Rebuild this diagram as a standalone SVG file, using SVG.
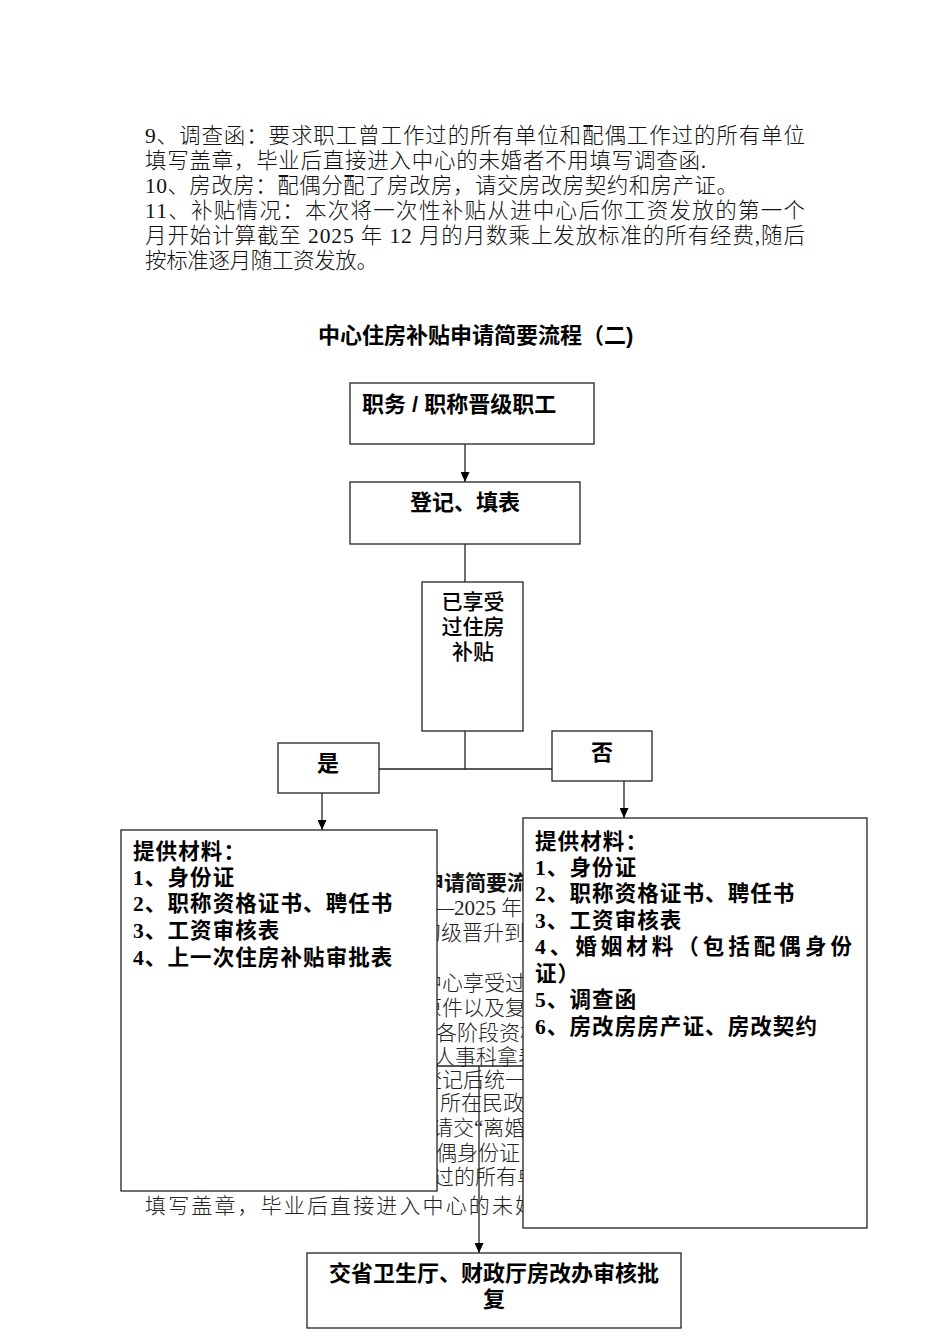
<svg xmlns="http://www.w3.org/2000/svg" width="950" height="1344" viewBox="0 0 950 1344">
<defs>
<style>
.body{font-family:"Liberation Serif","Noto Sans CJK SC",serif;font-size:21.5px;font-weight:300;fill:#111}
.bg{font-family:"Liberation Serif","Noto Sans CJK SC",serif;font-size:21px;font-weight:300;fill:#222}
.bgb{font-family:"Liberation Sans","Noto Sans CJK SC",sans-serif;font-size:21px;font-weight:700;fill:#111}
.title{font-family:"Liberation Sans","Noto Sans CJK SC",sans-serif;font-size:22px;font-weight:700;fill:#000}
.lbl{font-family:"Liberation Sans","Noto Sans CJK SC",sans-serif;font-size:22px;font-weight:700;fill:#000}
.lbln{font-family:"Liberation Sans","Noto Sans CJK SC",sans-serif;font-size:21px;font-weight:500;fill:#000}
.mat{font-family:"Liberation Serif","Noto Sans CJK SC",serif;font-size:21.5px;font-weight:700;fill:#000;letter-spacing:1.1px}
.box{fill:#fff;stroke:#222;stroke-width:1.3}
.ln{fill:none;stroke:#222;stroke-width:1.3}
</style>
<marker id="ah" markerWidth="10" markerHeight="9" refX="10" refY="4.5" orient="auto" markerUnits="userSpaceOnUse" viewBox="0 0 10 9">
<path d="M0,0 L10,4.5 L0,9 Z" fill="#000"/>
</marker>
<clipPath id="gapclip">
<rect x="437" y="860" width="86" height="331"/>
<rect x="130" y="1191" width="393" height="30"/>
</clipPath>
</defs>
<rect width="950" height="1344" fill="#fff"/>

<g id="paragraph">
<text class="body" x="145" y="143" textLength="660" lengthAdjust="spacing">9、调查函：要求职工曾工作过的所有单位和配偶工作过的所有单位</text>
<text class="body" x="145" y="168" textLength="561" lengthAdjust="spacing">填写盖章，毕业后直接进入中心的未婚者不用填写调查函.</text>
<text class="body" x="145" y="193" textLength="593" lengthAdjust="spacing">10、房改房：配偶分配了房改房，请交房改房契约和房产证。</text>
<text class="body" x="145" y="218" textLength="660" lengthAdjust="spacing">11、补贴情况：本次将一次性补贴从进中心后你工资发放的第一个</text>
<text class="body" x="145" y="243" textLength="660" lengthAdjust="spacing">月开始计算截至 2025 年 12 月的月数乘上发放标准的所有经费,随后</text>
<text class="body" x="145" y="268" textLength="233" lengthAdjust="spacing">按标准逐月随工资发放。</text>
</g>

<text id="title" class="title" x="318" y="343">中心住房补贴申请简要流程（二)</text>

<g id="background-text" clip-path="url(#gapclip)">
<text class="bgb" x="423" y="890">申请简要流</text>
<text class="bg" x="433" y="915">—2025 年</text>
<text class="bg" x="420" y="940">初级晋升到</text>
<text class="bg" x="421" y="990">中心享受过</text>
<text class="bg" x="421" y="1015">原件以及复</text>
<text class="bg" x="436" y="1040">各阶段资格</text>
<text class="bg" x="434" y="1064">人事科拿表</text>
<text class="bg" x="421" y="1087">登记后统一</text>
<text class="bg" x="440" y="1110">所在民政</text>
<text class="bg" x="432" y="1135">请交“离婚</text>
<text class="bg" x="436" y="1160">偶身份证</text>
<text class="bg" x="433" y="1184">过的所有单</text>
<text class="bg" x="145" y="1213" textLength="391" lengthAdjust="spacing">填写盖章，毕业后直接进入中心的未婚</text>
</g>

<g id="connectors">
<line class="ln" x1="465" y1="444" x2="465" y2="482" marker-end="url(#ah)"/>
<line class="ln" x1="465" y1="544" x2="465" y2="582"/>
<polyline class="ln" points="465,731 465,769 379,769"/>
<line class="ln" x1="465" y1="769" x2="552" y2="769"/>
<line class="ln" x1="322" y1="793" x2="322" y2="830" marker-end="url(#ah)"/>
<line class="ln" x1="624" y1="781" x2="624" y2="818" marker-end="url(#ah)"/>
<line class="ln" x1="437" y1="1066" x2="523" y2="1066"/>
<line class="ln" x1="479" y1="1066" x2="479" y2="1253" marker-end="url(#ah)"/>
</g>

<g id="n-start">
<rect class="box" x="350" y="383" width="244" height="61"/>
<text class="lbl" x="362" y="412">职务 / 职称晋级职工</text>
</g>
<g id="n-register">
<rect class="box" x="350" y="482" width="230" height="62"/>
<text class="lbl" x="465" y="510" text-anchor="middle">登记、填表</text>
</g>
<g id="n-decision">
<rect class="box" x="422" y="582" width="101" height="149"/>
<text class="lbln" x="473" y="609" text-anchor="middle">已享受</text>
<text class="lbln" x="473" y="634" text-anchor="middle">过住房</text>
<text class="lbln" x="473" y="659" text-anchor="middle">补贴</text>
</g>
<g id="n-yes">
<rect class="box" x="278" y="743" width="101" height="50"/>
<text class="lbl" x="328" y="771" text-anchor="middle">是</text>
</g>
<g id="n-no">
<rect class="box" x="552" y="731" width="100" height="50"/>
<text class="lbl" x="602" y="760" text-anchor="middle">否</text>
</g>
<g id="n-materials-yes">
<rect class="box" x="121" y="830" width="316" height="361"/>
<text class="mat" x="133" y="859">提供材料：</text>
<text class="mat" x="133" y="885">1、身份证</text>
<text class="mat" x="133" y="911">2、职称资格证书、聘任书</text>
<text class="mat" x="133" y="938">3、工资审核表</text>
<text class="mat" x="133" y="965">4、上一次住房补贴审批表</text>
</g>
<g id="n-materials-no">
<rect class="box" x="523" y="818" width="344" height="410"/>
<text class="mat" x="535" y="849">提供材料：</text>
<text class="mat" x="535" y="875">1、身份证</text>
<text class="mat" x="535" y="901">2、职称资格证书、聘任书</text>
<text class="mat" x="535" y="928">3、工资审核表</text>
<text class="mat" x="535" y="954" textLength="318" lengthAdjust="spacing">4、婚姻材料（包括配偶身份</text>
<text class="mat" x="535" y="981">证）</text>
<text class="mat" x="535" y="1007">5、调查函</text>
<text class="mat" x="535" y="1034">6、房改房房产证、房改契约</text>
</g>
<g id="n-final">
<rect class="box" x="307" y="1253" width="374" height="75"/>
<text class="lbl" x="494" y="1281" text-anchor="middle">交省卫生厅、财政厅房改办审核批</text>
<text class="lbl" x="494" y="1307" text-anchor="middle">复</text>
</g>
</svg>
